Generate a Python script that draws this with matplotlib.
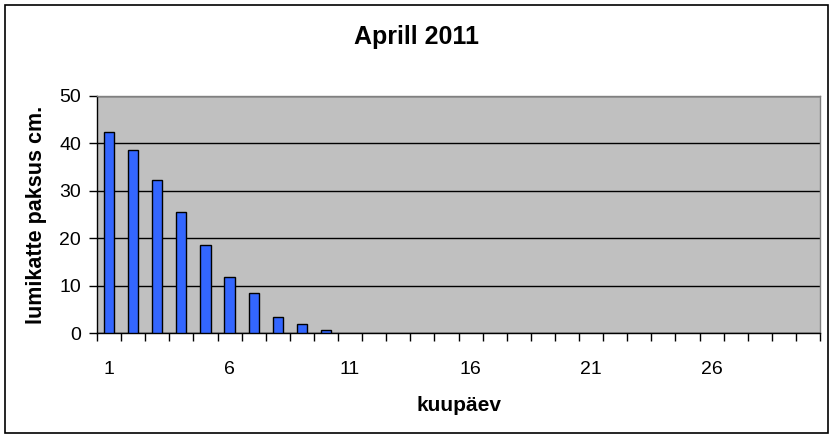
import matplotlib
matplotlib.use("Agg")
import matplotlib.pyplot as plt
from matplotlib.patches import Rectangle
import numpy as np

days = list(range(1, 31))
snow = [42.4, 38.6, 32.3, 25.6, 18.6, 11.9, 8.4, 3.5, 2.0, 0.6] + [0] * 20
label_days = [1, 6, 11, 16, 21, 26]
y_ticks = [0, 10, 20, 30, 40, 50]

plt.rcParams['font.family'] = ['Liberation Sans', 'DejaVu Sans']

fig = plt.figure(figsize=(8.35, 4.37), dpi=100)
ax = fig.add_axes([97/835, 1 - 333.3/437, (820 - 97)/835, (333.3 - 95.5)/437])
ax.set_facecolor('#C0C0C0')

x = np.array(days)
vals = np.array(snow)
mask = vals > 0
ax.bar(x[mask], vals[mask], width=0.42, color='#3366FF', edgecolor='black', linewidth=1, zorder=3)

ax.set_xlim(0.5, 30.5)
ax.set_ylim(0, 50)
ax.set_yticks(y_ticks)
ax.yaxis.grid(True, color='black', linewidth=1, zorder=1)
ax.set_axisbelow(True)

ax.set_xticks(label_days)
ax.set_xticklabels([str(d) for d in label_days], fontsize=14)
ax.tick_params(axis='x', which='major', length=0, pad=20)
ax.set_xticks(np.arange(0.5, 31, 1), minor=True)
ax.tick_params(axis='x', which='minor', length=5.5, width=1, direction='out', color='black')
ax.tick_params(axis='y', length=5.5, width=1, direction='out', labelsize=14, pad=6)

for s in ['top', 'right']:
    ax.spines[s].set_color('#808080')
    ax.spines[s].set_linewidth(1)
for s in ['left', 'bottom']:
    ax.spines[s].set_color('black')
    ax.spines[s].set_linewidth(1)

ax.set_xlabel('kuupäev', fontsize=15, fontweight='bold', labelpad=13)
ax.set_ylabel('lumikatte paksus cm.', fontsize=15.5, fontweight='bold', labelpad=9)

fig.text(417/835, 1 - 37/437, 'Aprill 2011', ha='center', va='center', fontsize=18, fontweight='bold')

fig.patches.append(Rectangle((5/835, 1 - 432.5/437), (828 - 5)/835, (432.5 - 5)/437,
                             transform=fig.transFigure, fill=False, edgecolor='black', linewidth=1.2))

fig.savefig('out.png', dpi=100)
